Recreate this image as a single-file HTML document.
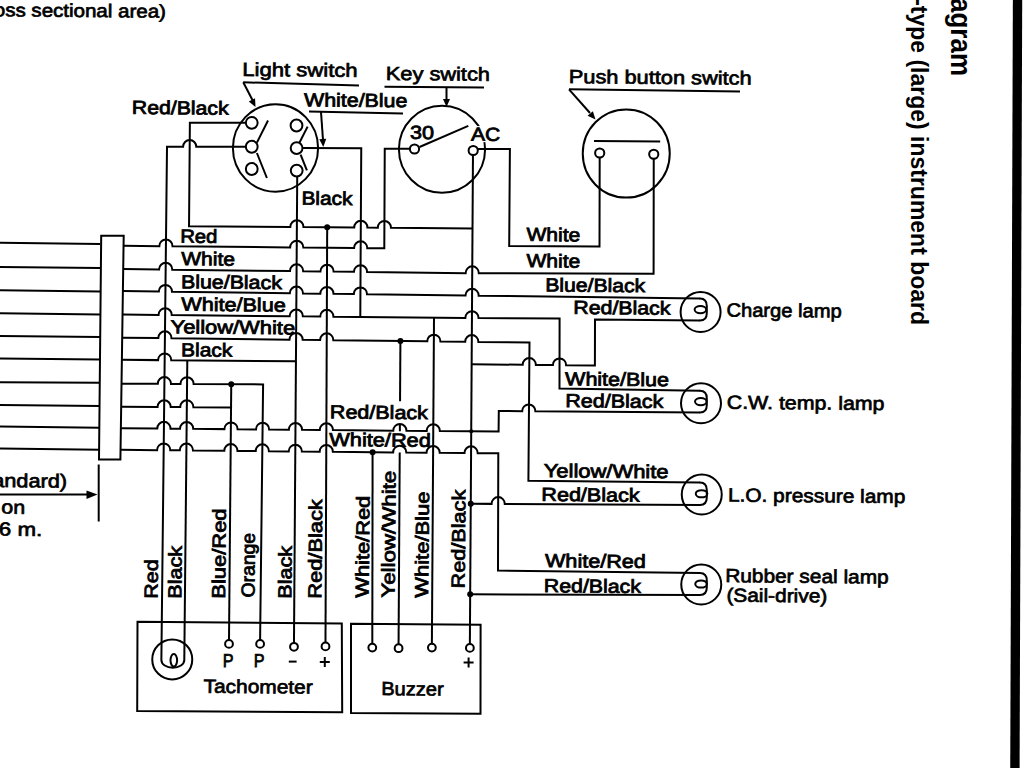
<!DOCTYPE html>
<html><head><meta charset="utf-8"><title>Wiring diagram</title>
<style>html,body{margin:0;padding:0;background:#fff;width:1024px;height:768px;overflow:hidden;font-family:"Liberation Sans",sans-serif}svg{display:block}</style>
</head><body>
<svg width="1024" height="768" viewBox="0 0 1024 768">
<rect width="1024" height="768" fill="#fff"/>
<g fill="none" stroke="#000" stroke-width="2.0">
<path d="M-2 242.68 L100 243.9"/>
<path d="M-2 266.88 L100 268.1"/>
<path d="M-2 290.18 L100 291.4"/>
<path d="M-2 313.18 L100 314.4"/>
<path d="M-2 335.88 L100 337.1"/>
<path d="M-2 358.38 L100 359.6"/>
<path d="M-2 382.23 L100 382.75"/>
<path d="M-2 405.08 L100 406.1"/>
<path d="M-2 426.58 L100 427.75"/>
<path d="M-2 448.58 L100 449.75"/>
<path d="M123.37 245.79 L159.32 246.15 A6.6 6.8 0 0 1 172.52 246.27 L290.14 247.41 A6.6 6.8 0 0 1 303.34 247.53 L354.08 248.02 A6.6 6.8 0 0 1 367.28 248.15 L384.3 248.31 L384.75 148.75 L410 148.8"/>
<path d="M123.06 269.03 L159.06 269.48 A6.6 6.8 0 0 1 172.26 269.64 L289.97 271.08 A6.6 6.8 0 0 1 303.17 271.24 L320.41 271.45 A6.6 6.8 0 0 1 333.61 271.61 L353.94 271.86 A6.6 6.8 0 0 1 367.14 272.02 L465.62 273.13 A6.6 6.8 0 0 1 478.82 273.17 L653.6 273.75 L653.74 158.85"/>
<path d="M122.76 291.12 L158.82 291.59 A6.6 6.8 0 0 1 172.02 291.76 L289.82 293.27 A6.6 6.8 0 0 1 303.02 293.44 L320.31 293.66 A6.6 6.8 0 0 1 333.51 293.83 L353.82 294.09 A6.6 6.8 0 0 1 367.02 294.26 L465.48 295.52 A6.6 6.8 0 0 1 478.68 295.69 L700 298.5"/>
<path d="M122.45 314.58 L158.56 314.94 A6.6 6.8 0 0 1 171.76 315.08 L289.66 316.25 A6.6 6.8 0 0 1 302.86 316.38 L320.22 316.55 A6.6 6.8 0 0 1 333.42 316.68 L465.34 317.96 A6.6 6.8 0 0 1 478.54 318.05 L559.6 318.6 L559.5 388.6 L700 390.75"/>
<path d="M122.14 337.63 L158.31 338.07 A6.6 6.8 0 0 1 171.51 338.24 L289.49 339.67 A6.6 6.8 0 0 1 302.69 339.83 L320.13 340.05 A6.6 6.8 0 0 1 333.33 340.21 L427.25 341.35 A6.6 6.8 0 0 1 440.45 341.51 L465.19 341.79 A6.6 6.8 0 0 1 478.39 341.91 L529.5 342.4 L528.4 480.75 L700 482.5"/>
<circle cx="400.41" cy="341.02" r="3" fill="#000" stroke="none"/>
<path d="M121.84 359.81 L158.07 360.12 A6.6 6.8 0 0 1 171.27 360.24 L295.94 361.32"/>
<path d="M121.52 383.63 L157.81 383.83 A6.6 6.8 0 0 1 171.01 383.9 L180.46 383.95 A6.6 6.8 0 0 1 193.66 384.02 L263.1 384.4 L260.1 640"/>
<circle cx="231.25" cy="384.23" r="3" fill="#000" stroke="none"/>
<path d="M121.21 406.77 L157.55 406.98 A6.6 6.8 0 0 1 170.75 407.05 L180.23 407.11 A6.6 6.8 0 0 1 193.43 407.18 L231.12 407.4"/>
<path d="M120.92 428.2 L157.31 428.52 A6.6 6.8 0 0 1 170.51 428.64 L180.01 428.72 A6.6 6.8 0 0 1 193.21 428.84 L224.4 429.12 A6.6 6.8 0 0 1 237.6 429.24 L255.97 429.4 A6.6 6.8 0 0 1 269.17 429.52 L288.87 429.7 A6.6 6.8 0 0 1 302.07 429.82 L319.76 429.98 A6.6 6.8 0 0 1 332.96 430.1 L393.26 430.64 A6.6 6.8 0 0 1 406.46 430.76 L426.66 430.94 A6.6 6.8 0 0 1 439.86 431.06 L498.6 431.5 L498.8 411 L522.19 411.18 A6.6 6.8 0 0 1 535.39 411.27 L700 412.5"/>
<circle cx="471.22" cy="431.31" r="2" fill="#000" stroke="none"/>
<path d="M120.63 449.79 L157.08 450.13 A6.6 6.8 0 0 1 170.28 450.25 L179.8 450.34 A6.6 6.8 0 0 1 193 450.47 L224.28 450.77 A6.6 6.8 0 0 1 237.48 450.9 L255.71 451.07 A6.6 6.8 0 0 1 268.91 451.2 L288.71 451.39 A6.6 6.8 0 0 1 301.91 451.52 L319.67 451.69 A6.6 6.8 0 0 1 332.87 451.82 L393.13 452.4 A6.6 6.8 0 0 1 406.33 452.52 L426.52 452.72 A6.6 6.8 0 0 1 439.72 452.84 L464.48 453.06 A6.6 6.8 0 0 1 477.68 453.15 L498.3 453.3 L498 570.6 L700 573"/>
<circle cx="372.6" cy="452.2" r="3" fill="#000" stroke="none"/>
<path d="M245.85 122.8 L189.88 122.8 L189.03 226.3 L290.28 226.99 A6.6 6.8 0 0 1 303.48 227.09 L354.2 227.49 A6.6 6.8 0 0 1 367.4 227.6 L377.79 227.68 A6.6 6.8 0 0 1 390.99 227.78 L472.5 228.4"/>
<circle cx="327.19" cy="227.28" r="3" fill="#000" stroke="none"/>
<path d="M245.85 146.75 L196.28 146.75 A6.6 6.8 0 0 0 183.08 146.75 L167.01 146.75 L161.37 660"/>
<path d="M302.5 148.1 L361.25 148.2 L360.29 316.95"/>
<path d="M297.23 176.5 L293.98 642.9"/>
<path d="M327.19 227.28 L325.49 642.5"/>
<path d="M187.3 360.38 L184.3 660"/>
<path d="M231.25 384.23 L229 640"/>
<path d="M372.6 452.2 L372.29 643.7"/>
<path d="M400.41 341.02 L400.04 401.3"/>
<path d="M399.91 423.9 L399.86 431.2"/>
<path d="M399.73 452.46 L398.57 644.3"/>
<path d="M434 317.68 L431.88 643.7"/>
<path d="M472.97 155.1 L469.87 644"/>
<path d="M477.8 148.9 L509.9 148.9 L509.2 246 L599.5 246.5 L599.69 157.6"/>
<path d="M471.64 364.2 L522.67 364.78 A6.6 6.8 0 0 1 535.87 364.93 L552.93 365.11 A6.6 6.8 0 0 1 566.13 365.26 L594.9 365.5 L595 319.5 L700 320.6"/>
<path d="M470.76 503.75 L491.57 503.87 A6.6 6.8 0 0 1 504.77 503.94 L700 505"/>
<circle cx="470.76" cy="503.75" r="3" fill="#000" stroke="none"/>
<path d="M470.19 594.3 L700 595"/>
<circle cx="470.19" cy="594.3" r="3" fill="#000" stroke="none"/>
<ellipse cx="275.5" cy="148" rx="42.6" ry="43.7"/>
<circle cx="251.75" cy="122.8" r="5.9" fill="#fff"/>
<circle cx="251.75" cy="146.75" r="5.9" fill="#fff"/>
<circle cx="251.75" cy="169" r="5.9" fill="#fff"/>
<circle cx="296.5" cy="125.5" r="5.9" fill="#fff"/>
<circle cx="296.6" cy="148.1" r="5.9" fill="#fff"/>
<circle cx="296.7" cy="170.6" r="5.9" fill="#fff"/>
<path d="M268 120.5 L256.9 142.6"/>
<path d="M256.9 153 L266.9 178"/>
<path d="M307.6 126.6 L299.4 142.8"/>
<path d="M300.6 154.6 L306.9 170.4"/>
<ellipse cx="442" cy="149.25" rx="43.1" ry="43.5"/>
<circle cx="414.5" cy="149" r="4.6" fill="#fff"/>
<circle cx="473.2" cy="150.5" r="4.6" fill="#fff"/>
<path d="M419.5 147 L468.3 125.8"/>
<ellipse cx="626.25" cy="153.5" rx="43.5" ry="44.1"/>
<path d="M594 141 L660.2 141.6"/>
<circle cx="599.7" cy="153" r="4.6" fill="#fff"/>
<circle cx="653.75" cy="154.25" r="4.6" fill="#fff"/>
<circle cx="700.6" cy="312" r="20"/>
<path d="M699.5 298.5 L700 298.5 Q706.8 298.5 706.8 306 L706.8 313.1 Q706.8 320.6 700 320.6 L699.5 320.6"/>
<ellipse cx="700.4" cy="309.55" rx="5.8" ry="3.6"/>
<circle cx="701" cy="403.25" r="20"/>
<path d="M699.5 390.75 L700 390.75 Q706.8 390.75 706.8 398.25 L706.8 405 Q706.8 412.5 700 412.5 L699.5 412.5"/>
<ellipse cx="700.8" cy="401.62" rx="5.8" ry="3.6"/>
<circle cx="701.75" cy="494.5" r="20"/>
<path d="M699.5 482.5 L700 482.5 Q706.8 482.5 706.8 490 L706.8 497.5 Q706.8 505 700 505 L699.5 505"/>
<ellipse cx="701.55" cy="493.75" rx="5.8" ry="3.6"/>
<circle cx="701.25" cy="584.5" r="20"/>
<path d="M699.5 573 L700 573 Q706.8 573 706.8 580.5 L706.8 587.5 Q706.8 595 700 595 L699.5 595"/>
<ellipse cx="701.05" cy="584" rx="5.8" ry="3.6"/>
<path d="M137.5 621.8 L341.8 623.4 L342.2 712.3 L137.2 711 Z"/>
<path d="M351 623.8 L480.6 624.8 L480.5 713.8 L351 713 Z"/>
<circle cx="172.25" cy="659.4" r="20"/>
<path d="M161.37 660 A11.46 7.75 0 0 0 184.3 660"/>
<ellipse cx="173.8" cy="660.3" rx="3.3" ry="6.3"/>
<circle cx="229" cy="643.9" r="3.9" fill="#fff"/>
<circle cx="260.1" cy="643.9" r="3.9" fill="#fff"/>
<circle cx="293.98" cy="646.8" r="3.9" fill="#fff"/>
<circle cx="325.49" cy="646.4" r="3.9" fill="#fff"/>
<circle cx="372.29" cy="647.6" r="3.9" fill="#fff"/>
<circle cx="398.57" cy="648.2" r="3.9" fill="#fff"/>
<circle cx="431.88" cy="647.6" r="3.9" fill="#fff"/>
<circle cx="469.87" cy="647.9" r="3.9" fill="#fff"/>
<path d="M288.8 661.6 L296.6 661.6"/>
<path d="M319.8 662 L329.8 662"/>
<path d="M324.8 657 L324.8 667"/>
<path d="M463.6 662.5 L473.6 662.5"/>
<path d="M468.6 657.5 L468.6 667.5"/>
<path d="M243.25 82.3 L359 85.4"/>
<path d="M243.25 82.3 L254 103"/>
<path d="M255.5 107 L248.79 101.41 L255.05 98.28 Z" fill="#000" stroke="none"/>
<path d="M309 111.6 L403 113.5"/>
<path d="M321 112 L323 140"/>
<path d="M323.3 147 L319.28 139.25 L326.26 138.78 Z" fill="#000" stroke="none"/>
<path d="M384.5 86.75 L484 87.5"/>
<path d="M446.5 87 L446.5 100"/>
<path d="M446.5 107 L443 99 L450 99 Z" fill="#000" stroke="none"/>
<path d="M569 89.3 L740 91.5"/>
<path d="M569 89.3 L590 113"/>
<path d="M595.5 119.5 L587.6 115.78 L592.87 111.17 Z" fill="#000" stroke="none"/>
</g>
<path d="M101.2 235.8 L123.7 235.8 L120.4 459.6 L99 459.6 Z" fill="#fff" stroke="#000" stroke-width="2"/>
<path d="M98.7 464.5 V521.5" stroke="#000" stroke-width="2"/><path d="M-2 494.4 H90" stroke="#000" stroke-width="2"/><path d="M97.5 494.6 L86.5 490.4 L86.5 499 Z" fill="#000"/>
<rect x="471" y="126" width="30.1" height="16" fill="#fff" transform="rotate(0.5 471 141)"/>
<g fill="#000" font-family="Liberation Sans, sans-serif" font-size="18.8">
<text transform="translate(-30.18 16) rotate(0.5)" textLength="196.12" lengthAdjust="spacingAndGlyphs" stroke="#000" stroke-width="0.7" font-size="18.5">(cross sectional area)</text>
<text transform="translate(242.34 75.9) rotate(0.5)" textLength="115.24" lengthAdjust="spacingAndGlyphs" stroke="#000" stroke-width="0.7" font-size="19">Light switch</text>
<text transform="translate(131.87 113.85) rotate(0.5)" textLength="96.69" lengthAdjust="spacingAndGlyphs" stroke="#000" stroke-width="0.8">Red/Black</text>
<text transform="translate(304.1 106.2) rotate(0.5)" textLength="103.2" lengthAdjust="spacingAndGlyphs" stroke="#000" stroke-width="0.8">White/Blue</text>
<text transform="translate(385.85 79.9) rotate(0.5)" textLength="104.08" lengthAdjust="spacingAndGlyphs" stroke="#000" stroke-width="0.7" font-size="19">Key switch</text>
<text transform="translate(568.85 83.1) rotate(0.5)" textLength="182.7" lengthAdjust="spacingAndGlyphs" stroke="#000" stroke-width="0.7" font-size="19">Push button switch</text>
<text transform="translate(410 138.85) rotate(0.5)" textLength="23.88" lengthAdjust="spacingAndGlyphs" stroke="#000" stroke-width="0.8">30</text>
<text transform="translate(301.39 204.6) rotate(0.5)" textLength="51.04" lengthAdjust="spacingAndGlyphs" stroke="#000" stroke-width="0.8">Black</text>
<text transform="translate(180.17 242.6) rotate(0.5)" textLength="37.24" lengthAdjust="spacingAndGlyphs" stroke="#000" stroke-width="0.8">Red</text>
<text transform="translate(181.25 265.1) rotate(0.5)" textLength="53.67" lengthAdjust="spacingAndGlyphs" stroke="#000" stroke-width="0.8">White</text>
<text transform="translate(181.06 288.2) rotate(0.5)" textLength="100.73" lengthAdjust="spacingAndGlyphs" stroke="#000" stroke-width="0.8">Blue/Black</text>
<text transform="translate(181.25 310.6) rotate(0.5)" textLength="104.45" lengthAdjust="spacingAndGlyphs" stroke="#000" stroke-width="0.8">White/Blue</text>
<text transform="translate(170.6 333.2) rotate(0.5)" textLength="124.45" lengthAdjust="spacingAndGlyphs" stroke="#000" stroke-width="0.8">Yellow/White</text>
<text transform="translate(181.08 356.2) rotate(0.5)" textLength="51.25" lengthAdjust="spacingAndGlyphs" stroke="#000" stroke-width="0.8">Black</text>
<text transform="translate(526.5 240.85) rotate(0.5)" textLength="53.77" lengthAdjust="spacingAndGlyphs" stroke="#000" stroke-width="0.8">White</text>
<text transform="translate(526.5 267.1) rotate(0.5)" textLength="53.77" lengthAdjust="spacingAndGlyphs" stroke="#000" stroke-width="0.8">White</text>
<text transform="translate(545.17 291.3) rotate(0.5)" textLength="100.03" lengthAdjust="spacingAndGlyphs" stroke="#000" stroke-width="0.8">Blue/Black</text>
<text transform="translate(573.37 313.8) rotate(0.5)" textLength="96.99" lengthAdjust="spacingAndGlyphs" stroke="#000" stroke-width="0.8">Red/Black</text>
<text transform="translate(726.44 316.5) rotate(0.5)" textLength="115.23" lengthAdjust="spacingAndGlyphs" stroke="#000" stroke-width="0.7" font-size="19">Charge lamp</text>
<text transform="translate(565.1 385.3) rotate(0.5)" textLength="103.9" lengthAdjust="spacingAndGlyphs" stroke="#000" stroke-width="0.8">White/Blue</text>
<text transform="translate(565.36 407.1) rotate(0.5)" textLength="97.8" lengthAdjust="spacingAndGlyphs" stroke="#000" stroke-width="0.8">Red/Black</text>
<text transform="translate(726.78 408.7) rotate(0.5)" textLength="157.7" lengthAdjust="spacingAndGlyphs" stroke="#000" stroke-width="0.7" font-size="19">C.W. temp. lamp</text>
<text transform="translate(329.86 418.35) rotate(0.5)" textLength="98" lengthAdjust="spacingAndGlyphs" stroke="#000" stroke-width="0.8">Red/Black</text>
<text transform="translate(329.3 445.9) rotate(0.5)" textLength="101.5" lengthAdjust="spacingAndGlyphs" stroke="#000" stroke-width="0.8">White/Red</text>
<text transform="translate(543.75 477.1) rotate(0.5)" textLength="124.8" lengthAdjust="spacingAndGlyphs" stroke="#000" stroke-width="0.8">Yellow/White</text>
<text transform="translate(541.35 500.85) rotate(0.5)" textLength="98.2" lengthAdjust="spacingAndGlyphs" stroke="#000" stroke-width="0.8">Red/Black</text>
<text transform="translate(727.9 501.5) rotate(0.5)" textLength="177.43" lengthAdjust="spacingAndGlyphs" stroke="#000" stroke-width="0.7" font-size="19">L.O. pressure lamp</text>
<text transform="translate(545 567.1) rotate(0.5)" textLength="100.79" lengthAdjust="spacingAndGlyphs" stroke="#000" stroke-width="0.8">White/Red</text>
<text transform="translate(543.87 592.1) rotate(0.5)" textLength="96.94" lengthAdjust="spacingAndGlyphs" stroke="#000" stroke-width="0.8">Red/Black</text>
<text transform="translate(725.15 582.1) rotate(0.5)" textLength="163.51" lengthAdjust="spacingAndGlyphs" stroke="#000" stroke-width="0.7" font-size="19">Rubber seal lamp</text>
<text transform="translate(726.4 601.6) rotate(0.5)" textLength="100.79" lengthAdjust="spacingAndGlyphs" stroke="#000" stroke-width="0.7" font-size="19">(Sail-drive)</text>
<text transform="translate(-98.34 486.2) rotate(0.5)" textLength="165.4" lengthAdjust="spacingAndGlyphs" stroke="#000" stroke-width="0.7" font-size="19">Cable (Standard)</text>
<text transform="translate(1.25 513.6) rotate(0.5)" textLength="23.78" lengthAdjust="spacingAndGlyphs" stroke="#000" stroke-width="0.7" font-size="19">on</text>
<text transform="translate(-1.17 535.6) rotate(0.5)" textLength="43.29" lengthAdjust="spacingAndGlyphs" stroke="#000" stroke-width="0.7" font-size="19">6 m.</text>
<text transform="translate(203.5 692.7) rotate(0.5)" textLength="109.21" lengthAdjust="spacingAndGlyphs" stroke="#000" stroke-width="0.7" font-size="19">Tachometer</text>
<text transform="translate(381.19 695.1) rotate(0.5)" textLength="62.45" lengthAdjust="spacingAndGlyphs" stroke="#000" stroke-width="0.7" font-size="19">Buzzer</text>
<text transform="translate(222.65 667.1) rotate(0.5)" textLength="10.71" lengthAdjust="spacingAndGlyphs" stroke="#000" stroke-width="0.8">P</text>
<text transform="translate(253.65 667.1) rotate(0.5)" textLength="10.71" lengthAdjust="spacingAndGlyphs" stroke="#000" stroke-width="0.8">P</text>
<text transform="translate(471 140.6) rotate(0.5)" textLength="29.1" lengthAdjust="spacingAndGlyphs" stroke="#000" stroke-width="0.8">AC</text>
<text transform="translate(157.6 598.64) rotate(-89.5)" textLength="39.17" lengthAdjust="spacingAndGlyphs" stroke="#000" stroke-width="0.8">Red</text>
<text transform="translate(181.35 598.64) rotate(-89.5)" textLength="52.57" lengthAdjust="spacingAndGlyphs" stroke="#000" stroke-width="0.8">Black</text>
<text transform="translate(225.1 598.67) rotate(-89.5)" textLength="90.23" lengthAdjust="spacingAndGlyphs" stroke="#000" stroke-width="0.8">Blue/Red</text>
<text transform="translate(254.4 597.5) rotate(-89.5)" textLength="64.65" lengthAdjust="spacingAndGlyphs" stroke="#000" stroke-width="0.8">Orange</text>
<text transform="translate(291.35 598.64) rotate(-89.5)" textLength="52.57" lengthAdjust="spacingAndGlyphs" stroke="#000" stroke-width="0.8">Black</text>
<text transform="translate(321.35 598.66) rotate(-89.5)" textLength="99.46" lengthAdjust="spacingAndGlyphs" stroke="#000" stroke-width="0.8">Red/Black</text>
<text transform="translate(368.6 597.7) rotate(-89.5)" textLength="101.9" lengthAdjust="spacingAndGlyphs" stroke="#000" stroke-width="0.8">White/Red</text>
<text transform="translate(394.6 597.7) rotate(-89.5)" textLength="126.9" lengthAdjust="spacingAndGlyphs" stroke="#000" stroke-width="0.8">Yellow/White</text>
<text transform="translate(428.1 597.7) rotate(-89.5)" textLength="106.1" lengthAdjust="spacingAndGlyphs" stroke="#000" stroke-width="0.8">White/Blue</text>
<text transform="translate(464.6 588.4) rotate(-89.5)" textLength="98.65" lengthAdjust="spacingAndGlyphs" stroke="#000" stroke-width="0.8">Red/Black</text>
</g>
<g fill="#000" font-family="Liberation Sans, sans-serif" font-weight="bold">
<text transform="translate(951 76) rotate(90) scale(1 1.1)" font-size="26" text-anchor="end">Wiring diagram</text>
<text transform="translate(911 325) rotate(90) scale(1 1.07)" font-size="23" text-anchor="end">L-type (large) instrument board</text>
</g>
<path d="M1012.86 -1 L1022.2 -1 L1019.6 769 L1010.24 769 Z" fill="#000"/>
</svg>
</body></html>
